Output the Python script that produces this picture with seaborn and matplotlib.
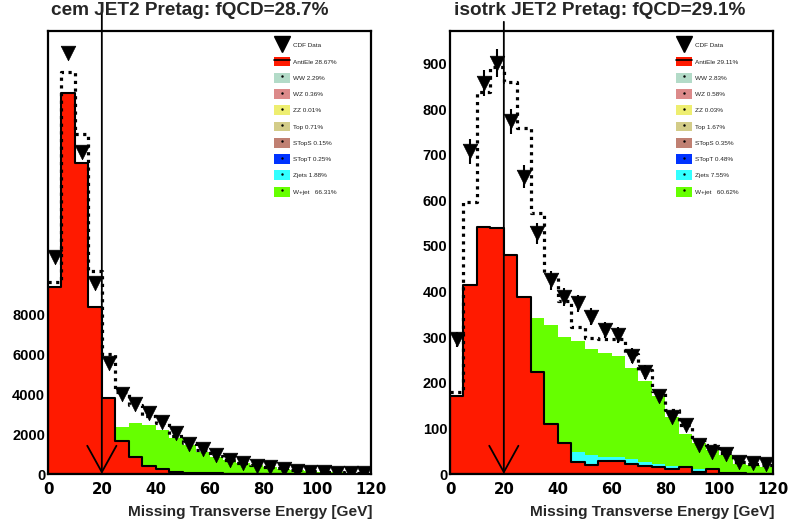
import numpy as np
import pandas as pd
import matplotlib
matplotlib.use("Agg")
import matplotlib.pyplot as plt
from matplotlib.patches import Patch
from matplotlib.lines import Line2D
import seaborn as sns

# ---------------- data ----------------
edges = list(range(0, 125, 5))            # 0..120 GeV, 5 GeV bins
cut = 20

titles = ["cem JET2 Pretag: fQCD=28.7%", "isotrk JET2 Pretag: fQCD=29.1%"]
xlabel = "Missing Transverse Energy [GeV]"

# cem (left)
data_cem = [10850, 21050, 16100, 9550, 5570, 4000, 3500, 3030, 2620, 2070, 1500, 1230,
            950, 700, 530, 400, 330, 270, 170, 100, 100, 70, 70, 50]
anti_cem = [9350, 19050, 15550, 8370, 3820, 1670, 870, 400, 230, 120, 70, 50,
            30, 20, 15, 10, 10, 5, 5, 5, 0, 0, 0, 0]
wjet_cem = [0, 0, 0, 0, 0, 2370, 2530, 2450, 2200, 1780, 1450, 1120,
            870, 700, 530, 430, 330, 270, 200, 150, 100, 80, 70, 60]
zjet_cem = [0] * 24
total_cem = [9600, 20100, 17000, 10150, 6000, 4100, 3450, 2900, 2550, 1900, 1550, 1200,
             920, 720, 550, 440, 340, 280, 210, 155, 105, 85, 75, 65]

# isotrk (right)
data_iso = [295, 707, 857, 901, 773, 652, 528, 425, 389, 374, 345, 316,
            305, 259, 224, 170, 126, 107, 64, 49, 44, 27, 25, 23]
anti_iso = [172, 414, 542, 540, 480, 387, 224, 110, 69, 27, 20, 29,
            29, 22, 17, 15, 10, 15, 5, 10, 2, 3, 0, 0]
wjet_iso = [0, 0, 0, 0, 0, 0, 343, 327, 300, 292, 273, 265,
            259, 232, 204, 170, 126, 87, 69, 53, 42, 23, 20, 16]
zjet_iso = [0, 0, 0, 0, 0, 0, 0, 0, 0, 49, 42, 38,
            37, 32, 27, 23, 17.5, 15, 10, 10, 5, 3, 3, 3]
total_iso = [180, 597, 838, 893, 860, 758, 572, 436, 380, 323, 298, 296,
             295, 262, 228, 182, 140, 107, 75, 63, 46, 27, 23, 20]

legend_labels = [
    ["CDF Data", "AntiEle 28.67%", "WW 2.29%", "WZ 0.36%", "ZZ 0.01%", "Top 0.71%",
     "STopS 0.15%", "STopT 0.25%", "Zjets 1.88%", "W+jet   66.31%"],
    ["CDF Data", "AntiEle 29.11%", "WW 2.83%", "WZ 0.58%", "ZZ 0.03%", "Top 1.67%",
     "STopS 0.35%", "STopT 0.48%", "Zjets 7.55%", "W+jet   60.62%"],
]
legend_colors = ["#ff1a00", "#b3dbc8", "#dc8a8a", "#eeee70", "#d3cc88",
                 "#c08072", "#0033ff", "#33ffff", "#66ff00"]

RED = "#ff1a00"
GREEN = "#66ff00"
CYAN = "#33ffff"

# ---------------- style ----------------
sns.set_style("white")
plt.rcParams["font.family"] = ["Liberation Sans", "DejaVu Sans"]
plt.rcParams["font.weight"] = "bold"

W, H = 788, 527
fig = plt.figure(figsize=(W / 100, H / 100), dpi=100)

centers = [(edges[k] + edges[k + 1]) / 2 for k in range(len(edges) - 1)]

panels = [
    dict(data=data_cem, anti=anti_cem, wjet=wjet_cem, zjet=zjet_cem, total=total_cem,
         left=48, ymax=22150, major=2000, minor=500, labmax=8000),
    dict(data=data_iso, anti=anti_iso, wjet=wjet_iso, zjet=zjet_iso, total=total_iso,
         left=450, ymax=971, major=100, minor=20, labmax=900),
]


def hist(ax, df, col, **kw):
    sns.histplot(data=df, x="x", weights=col, bins=edges, element="step", ax=ax, **kw)


for i, p in enumerate(panels):
    ax = fig.add_axes([p["left"] / W, (H - 474) / H, 323 / W, 443 / H])
    df = pd.DataFrame({"x": centers, "data": p["data"], "anti": p["anti"],
                       "wjet": p["wjet"], "zjet": p["zjet"], "total": p["total"]})

    hist(ax, df, "wjet", fill=True, color=GREEN, alpha=1, linewidth=0)
    hist(ax, df, "zjet", fill=True, color=CYAN, alpha=1, linewidth=0)
    hist(ax, df, "anti", fill=True, color=RED, alpha=1, edgecolor="black", linewidth=1.5)
    hist(ax, df, "total", fill=False, color="black", linewidth=2.3, linestyle=(0, (1, 1.4)))

    ax.errorbar(df["x"], df["data"], yerr=np.sqrt(df["data"]), fmt="none",
                ecolor="black", elinewidth=1.5, capsize=0, zorder=5)
    sns.scatterplot(data=df, x="x", y="data", marker="v", s=110, color="black",
                    edgecolor="black", linewidth=0.5, ax=ax, zorder=6)

    ymax_data = max(p["data"])
    ax.annotate("", xy=(cut, 0), xytext=(cut, 1.1 * ymax_data),
                arrowprops=dict(arrowstyle="->,head_length=1.9,head_width=1.05",
                                mutation_scale=10, lw=1.3, color="black",
                                shrinkA=0, shrinkB=0),
                annotation_clip=False, zorder=7)

    ax.set_xlim(0, 120)
    ax.set_ylim(0, p["ymax"])
    ax.set_xlabel("")
    ax.set_ylabel("")

    ax.set_xticks(np.arange(0, 121, 20))
    ax.set_xticks(np.arange(0, 121, 5), minor=True)
    yt = np.arange(0, p["ymax"], p["major"])
    ax.set_yticks(yt)
    ax.set_yticklabels([f"{int(v)}" if v <= p["labmax"] else "" for v in yt])
    ax.set_yticks(np.arange(0, p["ymax"], p["minor"]), minor=True)
    ax.tick_params(axis="both", which="major", direction="in", length=7.5, width=1.3,
                   colors="black")
    ax.tick_params(axis="both", which="minor", direction="in", length=3.6, width=1.1)
    ax.tick_params(axis="x", which="major", pad=6)
    ax.tick_params(axis="y", which="major", labelsize=10.5, pad=2)
    for lab in ax.get_xticklabels():
        lab.set_fontweight("bold")
        lab.set_fontfamily(["DejaVu Sans"])
        lab.set_fontsize(10.8)
    for lab in ax.get_yticklabels():
        lab.set_fontweight("bold")
    for s in ax.spines.values():
        s.set_color("black")
        s.set_linewidth(1.6)
        s.set_visible(True)
    ax.set_zorder(1)

    # legend
    handles = [Line2D([], [], marker="v", ms=12, color="black", lw=0)]
    for k, c in enumerate(legend_colors):
        patch = Patch(facecolor=c, edgecolor="none")
        if k == 0:
            handles.append((patch, Line2D([], [], color="black", lw=1.2)))
        else:
            handles.append((patch, Line2D([], [], marker=".", ms=1.5, color="black", lw=0)))
    leg = ax.legend(handles, legend_labels[i], loc="upper left",
                    bbox_to_anchor=(0.6997, 0.979), frameon=False,
                    fontsize=4.6, handlelength=2.5, handleheight=2.0,
                    labelspacing=1.0, handletextpad=0.5, borderpad=0,
                    borderaxespad=0)
    for t in leg.get_texts():
        t.set_fontweight("normal")
        t.set_color("#222222")

    # title and x label
    tx = 190 if i == 0 else 600
    fig.text(tx / W, 1 - 10.5 / H, titles[i], ha="center", va="center",
             fontsize=13.7, fontweight="bold")
    fig.text((p["left"] + 324) / W, 1 - 512 / H, xlabel, ha="right", va="center",
             fontsize=11.1, fontweight="bold")

fig.savefig("out.png", dpi=100)
